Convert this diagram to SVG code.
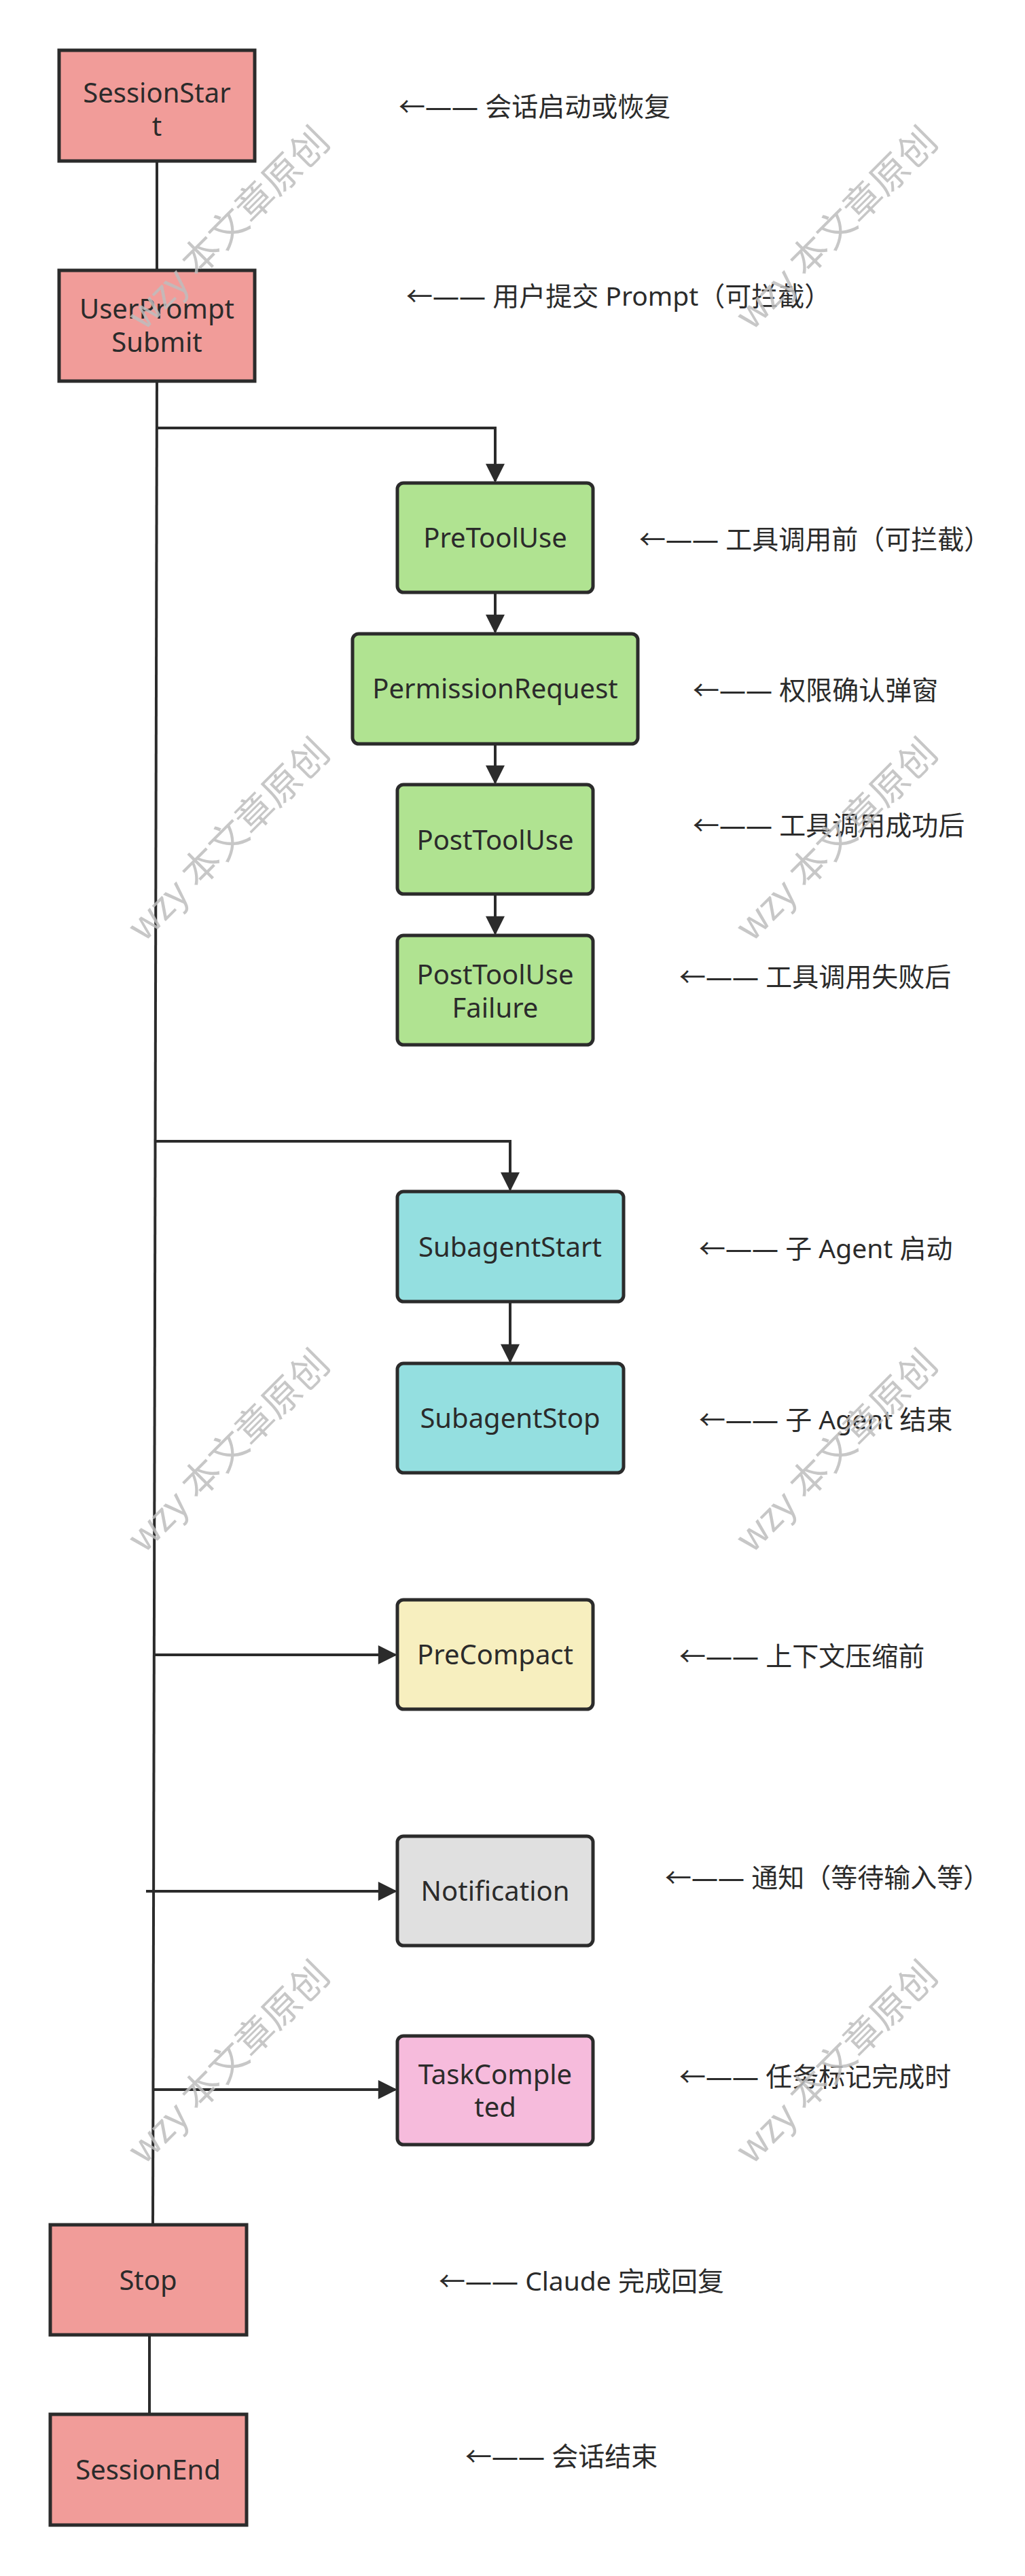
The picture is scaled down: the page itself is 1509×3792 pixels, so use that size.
<svg xmlns="http://www.w3.org/2000/svg" width="1509" height="3792" viewBox="0 0 1509 3792">
<style>
.n{stroke:#2b2b2b;stroke-width:5}
.t{font-family:"Noto Sans","Noto Sans CJK SC",sans-serif;font-size:40px;fill:#2b2b2b;text-anchor:middle}
.l{font-family:"Noto Sans","Noto Sans CJK SC",sans-serif;font-size:39px;fill:#2b2b2b}
.c{stroke:#2b2b2b;stroke-width:4;fill:none}
.w{font-family:"Noto Sans CJK SC",sans-serif;font-size:56px;fill:#bdbdbd;fill-opacity:0.85;text-anchor:middle}
</style>
<defs>
<marker id="a" viewBox="0 0 10 10" refX="9" refY="5" markerWidth="8" markerHeight="7" markerUnits="strokeWidth" orient="auto"><path d="M0,0 L10,5 L0,10 z" fill="#2b2b2b"/></marker>
</defs>
<rect width="1509" height="3792" fill="#ffffff"/>
<g id="connectors">
<path class="c" d="M231 237 V398"/>
<path class="c" d="M231 561 L225 3275"/>
<path class="c" d="M231 630 H729 V708" marker-end="url(#a)"/>
<path class="c" d="M729 872 V930" marker-end="url(#a)"/>
<path class="c" d="M729 1095 V1152" marker-end="url(#a)"/>
<path class="c" d="M729 1316 V1374" marker-end="url(#a)"/>
<path class="c" d="M228 1680 H751 V1751" marker-end="url(#a)"/>
<path class="c" d="M751 1916 V2004" marker-end="url(#a)"/>
<path class="c" d="M226 2436 H582" marker-end="url(#a)"/>
<path class="c" d="M215 2784 H582" marker-end="url(#a)"/>
<path class="c" d="M226 3076 H582" marker-end="url(#a)"/>
<path class="c" d="M220 3437 V3554"/>
</g>
<g id="SessionStart"><rect class="n" x="87" y="74" width="288" height="163" fill="#f19c99"/><text class="t" x="231" y="151">SessionStar</text><text class="t" x="231" y="200">t</text></g>
<g id="UserPromptSubmit"><rect class="n" x="87" y="398" width="288" height="163" fill="#f19c99"/><text class="t" x="231" y="469">UserPrompt</text><text class="t" x="231" y="518">Submit</text></g>
<g id="PreToolUse"><rect class="n" x="585" y="711" width="288" height="161" rx="9" fill="#b0e391"/><text class="t" x="729" y="806">PreToolUse</text></g>
<g id="PermissionRequest"><rect class="n" x="519" y="933" width="420" height="162" rx="9" fill="#b0e391"/><text class="t" x="729" y="1028">PermissionRequest</text></g>
<g id="PostToolUse"><rect class="n" x="585" y="1155" width="288" height="161" rx="9" fill="#b0e391"/><text class="t" x="729" y="1251">PostToolUse</text></g>
<g id="PostToolUseFailure"><rect class="n" x="585" y="1377" width="288" height="161" rx="9" fill="#b0e391"/><text class="t" x="729" y="1449">PostToolUse</text><text class="t" x="729" y="1498">Failure</text></g>
<g id="SubagentStart"><rect class="n" x="585" y="1754" width="333" height="162" rx="9" fill="#94dfe0"/><text class="t" x="751" y="1850">SubagentStart</text></g>
<g id="SubagentStop"><rect class="n" x="585" y="2007" width="333" height="161" rx="9" fill="#94dfe0"/><text class="t" x="751" y="2102">SubagentStop</text></g>
<g id="PreCompact"><rect class="n" x="585" y="2355" width="288" height="161" rx="9" fill="#f7efbf"/><text class="t" x="729" y="2450">PreCompact</text></g>
<g id="Notification"><rect class="n" x="585" y="2703" width="288" height="161" rx="9" fill="#e0e0e0"/><text class="t" x="729" y="2798">Notification</text></g>
<g id="TaskCompleted"><rect class="n" x="585" y="2997" width="288" height="160" rx="9" fill="#f6bbdc"/><text class="t" x="729" y="3068">TaskComple</text><text class="t" x="729" y="3116">ted</text></g>
<g id="Stop"><rect class="n" x="74" y="3275" width="289" height="162" fill="#f19c99"/><text class="t" x="218" y="3371">Stop</text></g>
<g id="SessionEnd"><rect class="n" x="74" y="3554" width="289" height="163" fill="#f19c99"/><text class="t" x="218" y="3650">SessionEnd</text></g>
<g id="labels">
<text class="l" x="587" y="171">←—— 会话启动或恢复</text>
<text class="l" x="598" y="450">←—— 用户提交 Prompt（可拦截）</text>
<text class="l" x="941" y="808">←—— 工具调用前（可拦截）</text>
<text class="l" x="1020" y="1030">←—— 权限确认弹窗</text>
<text class="l" x="1020" y="1229">←—— 工具调用成功后</text>
<text class="l" x="1000" y="1452">←—— 工具调用失败后</text>
<text class="l" x="1029" y="1852">←—— 子 Agent 启动</text>
<text class="l" x="1029" y="2104">←—— 子 Agent 结束</text>
<text class="l" x="1000" y="2452">←—— 上下文压缩前</text>
<text class="l" x="979" y="2778">←—— 通知（等待输入等）</text>
<text class="l" x="1000" y="3071">←—— 任务标记完成时</text>
<text class="l" x="646" y="3372">←—— Claude 完成回复</text>
<text class="l" x="685" y="3630">←—— 会话结束</text>
</g>
<g id="watermarks">
<text class="w" transform="translate(350,350) rotate(-45)">wzy 本文章原创</text>
<text class="w" transform="translate(1245,350) rotate(-45)">wzy 本文章原创</text>
<text class="w" transform="translate(350,1250) rotate(-45)">wzy 本文章原创</text>
<text class="w" transform="translate(1245,1250) rotate(-45)">wzy 本文章原创</text>
<text class="w" transform="translate(350,2150) rotate(-45)">wzy 本文章原创</text>
<text class="w" transform="translate(1245,2150) rotate(-45)">wzy 本文章原创</text>
<text class="w" transform="translate(350,3050) rotate(-45)">wzy 本文章原创</text>
<text class="w" transform="translate(1245,3050) rotate(-45)">wzy 本文章原创</text>
</g>
</svg>
